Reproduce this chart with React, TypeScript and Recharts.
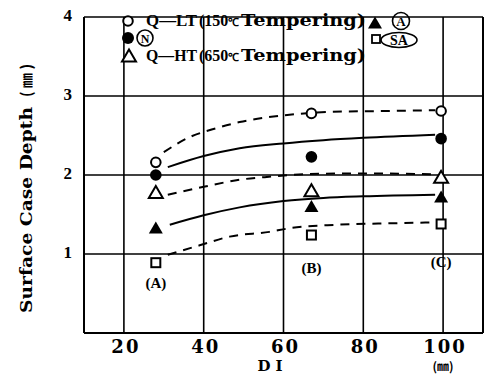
import React from 'react';
import { ComposedChart, Line, Scatter, XAxis, YAxis, CartesianGrid, ReferenceLine } from 'recharts';

// ---- data ----
const xTicks = [20, 40, 60, 80, 100];
const yTicks = [1, 2, 3, 4];

const steelDI = [28, 67, 99.5];
const steelNames = ['(A)', '(B)', '(C)'];
const steelNameY = [0.63, 0.82, 0.9];

const qltValues = [2.16, 2.78, 2.81];
const nValues = [2.0, 2.23, 2.46];
const qhtValues = [1.78, 1.8, 1.97];
const aValues = [1.33, 1.6, 1.72];
const saValues = [0.89, 1.24, 1.38];

const qltCurveX = [30, 36.5, 43, 49, 56, 63, 72, 85, 98];
const qltCurveY = [2.29, 2.48, 2.59, 2.67, 2.73, 2.77, 2.8, 2.81, 2.82];
const nCurveX = [31, 40, 49, 60, 70, 80, 98];
const nCurveY = [2.1, 2.24, 2.34, 2.4, 2.44, 2.47, 2.51];
const qhtCurveX = [31, 40, 49, 57, 65, 80, 98];
const qhtCurveY = [1.75, 1.85, 1.94, 1.98, 2.01, 2.02, 2.01];
const aCurveX = [31.5, 40, 49, 60, 70, 80, 98];
const aCurveY = [1.37, 1.49, 1.59, 1.67, 1.71, 1.73, 1.75];
const saCurveX = [31, 39, 46.5, 56.5, 62, 73.5, 88, 98];
const saCurveY = [0.99, 1.11, 1.22, 1.28, 1.33, 1.37, 1.39, 1.4];

const toPts = (xs: number[], ys: number[]) => xs.map((x, i) => ({ x, y: ys[i] }));
const markerPts = (ys: number[]) => steelDI.map((x, i) => ({ x, y: ys[i] }));
const namePts = steelDI.map((x, i) => ({ x, y: steelNameY[i], name: steelNames[i] }));

const SERIF = "'Liberation Serif', 'Times New Roman', serif";
const SLAB = "'DejaVu Serif', serif";
const CJK = "'Noto Sans CJK JP', sans-serif";

// ---- marker shapes ----
const OpenCircle = (p: any) => (
  <circle cx={p.cx} cy={p.cy} r={4.8} fill="#fff" stroke="#000" strokeWidth={2} />
);
const FilledCircle = (p: any) => <circle cx={p.cx} cy={p.cy} r={5.8} fill="#000" />;
const triPts = (cx: number, cy: number) =>
  `${cx},${cy - 6.5} ${cx - 7},${cy + 5.5} ${cx + 7},${cy + 5.5}`;
const OpenTriangle = (p: any) => (
  <polygon points={triPts(p.cx, p.cy)} fill="#fff" stroke="#000" strokeWidth={2} />
);
const FilledTriangle = (p: any) => <polygon points={triPts(p.cx, p.cy)} fill="#000" />;
const Square = (p: any) => (
  <rect x={p.cx - 4.5} y={p.cy - 4.5} width={9} height={9} fill="#fff" stroke="#000" strokeWidth={2} />
);
const NameText = (p: any) => (
  <text x={p.cx} y={p.cy + 5} textAnchor="middle" style={{ fontFamily: SERIF }} fontSize={15} fontWeight="bold" fill="#000">
    {p.payload.name}
  </text>
);

const XTick = (p: any) => (
  <text x={p.x + 2} y={353} textAnchor="middle" style={{ fontFamily: SLAB }} fontSize={18} fontWeight="bold" fill="#000" letterSpacing={2}>
    {p.payload.value}
  </text>
);
const YTick = (p: any) => (
  <text x={72} y={p.y + 4} textAnchor="end" style={{ fontFamily: SERIF }} fontSize={17} fontWeight="bold" fill="#000">
    {p.payload.value}
  </text>
);

const Legend = () => (
  <svg width={484} height={374} style={{ position: 'absolute', left: 0, top: 0, pointerEvents: 'none' }}>
    <g fill="#000" fontWeight="bold">
      {/* row 1 */}
      <circle cx={128} cy={21} r={4.8} fill="#fff" stroke="#000" strokeWidth={2} />
      <text x={146} y={26} style={{ fontFamily: SERIF }} fontSize={17} textLength={51} lengthAdjust="spacingAndGlyphs">Q—LT</text>
      <text x={199} y={26} style={{ fontFamily: SERIF }} fontSize={16}>
        (150<tspan fontSize={11}>℃</tspan>
      </text>
      <text x={241} y={26} style={{ fontFamily: SLAB }} fontSize={16} textLength={125} lengthAdjust="spacingAndGlyphs">Tempering)</text>
      <polygon points={triPts(375, 23)} fill="#000" />
      <circle cx={401} cy={21} r={8.5} fill="none" stroke="#000" strokeWidth={1.6} />
      <text x={401} y={26} textAnchor="middle" style={{ fontFamily: SERIF }} fontSize={13}>A</text>
      {/* row 2 */}
      <circle cx={128} cy={38} r={6} fill="#000" />
      <circle cx={145} cy={38} r={8} fill="none" stroke="#000" strokeWidth={1.6} />
      <text x={145} y={43} textAnchor="middle" style={{ fontFamily: SERIF }} fontSize={12}>N</text>
      <rect x={372} y={35} width={8} height={8} fill="#fff" stroke="#000" strokeWidth={1.8} />
      <ellipse cx={399} cy={40} rx={18} ry={7.5} fill="none" stroke="#000" strokeWidth={1.6} />
      <text x={399} y={45} textAnchor="middle" style={{ fontFamily: SERIF }} fontSize={14}>SA</text>
      {/* row 3 */}
      <polygon points={triPts(129, 56)} fill="#fff" stroke="#000" strokeWidth={2} />
      <text x={146} y={61} style={{ fontFamily: SERIF }} fontSize={17} textLength={51} lengthAdjust="spacingAndGlyphs">Q—HT</text>
      <text x={199} y={61} style={{ fontFamily: SERIF }} fontSize={16}>
        (650<tspan fontSize={11}>℃</tspan>
      </text>
      <text x={241} y={61} style={{ fontFamily: SLAB }} fontSize={16} textLength={125} lengthAdjust="spacingAndGlyphs">Tempering)</text>
      {/* axis titles */}
      <g transform="translate(32,313) rotate(-90)">
        <text x={0} y={0} style={{ fontFamily: SLAB }} fontSize={17} textLength={206} lengthAdjust="spacingAndGlyphs">Surface Case Depth</text>
        <text x={216} y={0} style={{ fontFamily: CJK }} fontSize={15}>( ㎜ )</text>
      </g>
      <text x={270} y={371} textAnchor="middle" style={{ fontFamily: SLAB }} fontSize={15}>D I</text>
      <text x={443} y={371} textAnchor="middle" style={{ fontFamily: CJK }} fontSize={12}>(㎜)</text>
    </g>
  </svg>
);

const lineProps = {
  type: 'monotone' as const,
  dataKey: 'y',
  stroke: '#000',
  strokeWidth: 2,
  dot: false,
  activeDot: false,
  isAnimationActive: false,
  legendType: 'none' as const,
};
const dash = '9 7';

export default function App() {
  return (
    <div style={{ position: 'fixed', left: 0, top: 0, width: 484, height: 374, background: '#fff' }}>
      <ComposedChart width={484} height={374} margin={{ top: 17, right: 1, bottom: 0, left: 0 }}>
        <CartesianGrid stroke="#000" strokeWidth={1.6} />
        <XAxis
          dataKey="x"
          type="number"
          domain={[10, 110]}
          ticks={xTicks}
          height={41}
          tickLine={false}
          axisLine={{ stroke: '#000', strokeWidth: 2 }}
          tick={<XTick />}
          allowDataOverflow
        />
        <YAxis
          type="number"
          domain={[0, 4]}
          ticks={yTicks}
          width={84}
          tickLine={false}
          axisLine={{ stroke: '#000', strokeWidth: 2 }}
          tick={<YTick />}
          allowDataOverflow
        />
        <ReferenceLine x={110} stroke="#000" strokeWidth={2} />
        <Line {...lineProps} data={toPts(qltCurveX, qltCurveY)} strokeDasharray={dash} />
        <Line {...lineProps} data={toPts(nCurveX, nCurveY)} />
        <Line {...lineProps} data={toPts(qhtCurveX, qhtCurveY)} strokeDasharray={dash} />
        <Line {...lineProps} data={toPts(aCurveX, aCurveY)} />
        <Line {...lineProps} data={toPts(saCurveX, saCurveY)} strokeDasharray={dash} />
        <Scatter data={markerPts(qltValues)} dataKey="y" shape={OpenCircle} isAnimationActive={false} />
        <Scatter data={markerPts(nValues)} dataKey="y" shape={FilledCircle} isAnimationActive={false} />
        <Scatter data={markerPts(qhtValues)} dataKey="y" shape={OpenTriangle} isAnimationActive={false} />
        <Scatter data={markerPts(aValues)} dataKey="y" shape={FilledTriangle} isAnimationActive={false} />
        <Scatter data={markerPts(saValues)} dataKey="y" shape={Square} isAnimationActive={false} />
        <Scatter data={namePts} dataKey="y" shape={NameText} isAnimationActive={false} />
      </ComposedChart>
      <Legend />
    </div>
  );
}
